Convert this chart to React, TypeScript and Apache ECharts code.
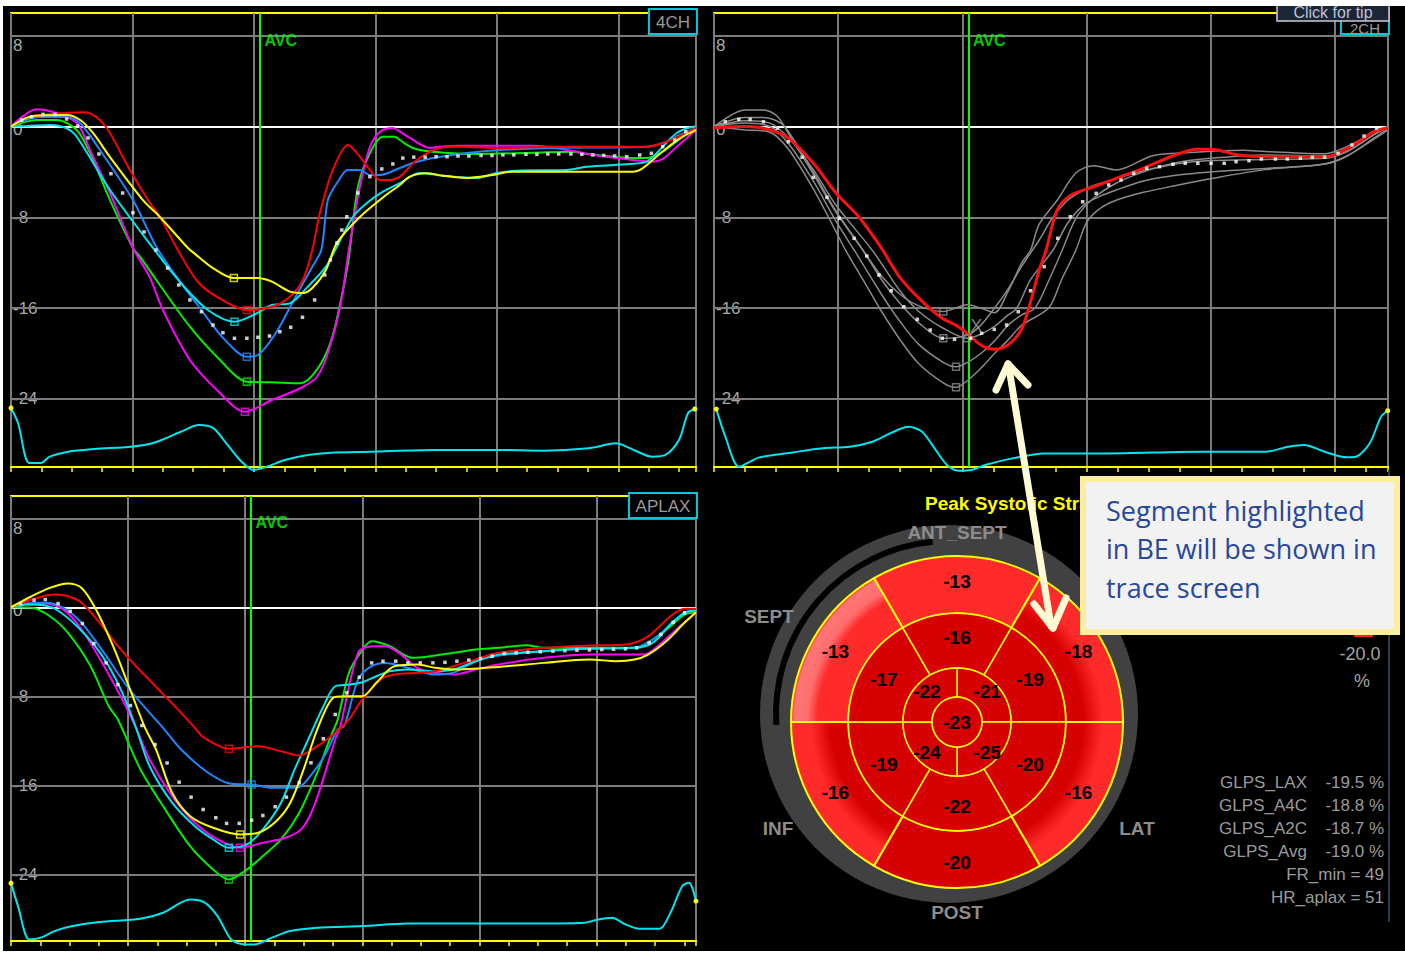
import React, { useEffect, useRef } from 'react';
import * as echarts from 'echarts';

type Pt = [number, number];

// ---------- axis / labels ----------
const yTicks = [8, 0, -8, -16, -24];
const avcTime = 205;
const avcLabelLevel = 7.6;
const viewNames = ['4CH', '2CH', 'APLAX'];
const xMaxes = [564, 543, 585];

// ---------- 4CH ----------
const a4cYellow: Pt[] = [[0,0],[18,0.93],[46,1.01],[57,0.57],[67.5,-0.57],[81.5,-2.69],[108.6,-6.48],[122.6,-7.97],[145.7,-10.7],[151.2,-11.2],[166.3,-12.47],[183.5,-13.35],[203.3,-13.35],[214.8,-13.67],[229.6,-14.55],[240.3,-14.67],[248.1,-14.23],[259.3,-12.64],[268.3,-10.26],[287.2,-7.97],[306.2,-6.25],[320.2,-5.15],[328.4,-4.42],[342.1,-4.12],[355.6,-4.33],[375,-4.54],[396.7,-4.27],[413.2,-3.98],[512,-3.98],[517.9,-3.83],[528.4,-2.95],[540,-1.89],[553.1,-0.9],[564,-0.31]];
const a4cRed: Pt[] = [[0,0],[15.6,0.86],[29.4,1.07],[59.3,1.25],[65,1.16],[73.2,0.57],[81.5,-0.57],[99.3,-4.1],[114.4,-6.74],[122.6,-7.95],[136.4,-10.7],[154.7,-13.79],[173.7,-15.28],[194.2,-16.17],[214.8,-15.88],[229.6,-14.99],[240.3,-13.52],[248.1,-10.88],[254.3,-7.62],[265,-3.83],[277.4,-1.63],[287.2,-2.66],[295.5,-3.83],[303.7,-4.71],[311.9,-4.71],[320.2,-4.42],[334.1,-2.95],[353,-1.89],[369.5,-1.78],[402.5,-1.92],[443.6,-1.78],[523.4,-1.78],[539.9,-1.34],[556.3,-0.57],[564,-0.13]];
const a4cBlue: Pt[] = [[0,0],[7.4,0.42],[23.9,0.84],[45.8,0.84],[56.8,0.31],[73.2,-2.07],[100.4,-6.48],[120.2,-10.7],[139.9,-13.79],[154.7,-15.88],[173.7,-18.52],[194.2,-20.28],[203.3,-20.13],[218.1,-18.19],[232.9,-15.28],[248.1,-12.35],[255.5,-10.88],[260.9,-6.48],[269.1,-4.86],[277.4,-3.83],[287.2,-3.83],[295.5,-4.27],[303.7,-4.27],[320.2,-3.66],[330.8,-3.22],[347.3,-2.78],[375.3,-2.33],[402.5,-2.07],[443.6,-1.89],[523.4,-1.78],[536.6,-1.45],[550.6,-0.75],[564,-0.1]];
const a4cGreen: Pt[] = [[0,0],[21.2,0.57],[37.6,0.57],[54.1,-0.31],[65,-2.33],[81.5,-6.48],[100.4,-10.7],[106.2,-11.47],[121.4,-13.79],[147.3,-17.64],[169.5,-20.28],[194.2,-22.48],[214.8,-22.54],[238.7,-22.62],[251.8,-21.45],[263,-19.07],[270.5,-15.88],[277.9,-11.76],[285.6,-5.33],[295.5,-2.33],[306.2,-0.9],[316,-0.9],[320.2,-1.19],[330.8,-1.89],[347.3,-2.22],[383.5,-2.42],[429.6,-2.31],[462.6,-2.22],[474.1,-2.42],[512,-2.78],[523.4,-2.78],[536.6,-2.22],[553.1,-0.9],[564,-0.13]];
const a4cCyan: Pt[] = [[0,0],[12.9,0.04],[32.1,0.13],[45.8,-0.16],[54.1,-0.9],[81.5,-5.59],[116.9,-10.7],[139.9,-13.79],[162.1,-16.17],[184,-17.2],[199.7,-16.61],[214.8,-15.73],[229.6,-15.58],[244.4,-14.11],[259.3,-12.35],[268.3,-10.6],[281.5,-7.97],[293,-6.74],[306.2,-5.74],[320.2,-4.98],[336.6,-4.1],[350.6,-4.27],[383.5,-4.54],[400,-4.1],[416.4,-3.89],[457.6,-3.83],[474.1,-3.54],[509.5,-3.3],[523.4,-3.1],[534.1,-2.07],[548.1,-0.57],[561.3,-0.02],[564,0]];
const a4cMagenta: Pt[] = [[0,0],[21.2,1.52],[34.6,1.28],[54.3,0.31],[65,-2.07],[81.5,-5.86],[100.4,-10.7],[114,-13.23],[125.1,-16.17],[147.3,-20.57],[169.5,-23.21],[192.6,-25.13],[214.8,-24.1],[238.7,-23.04],[251.8,-22.07],[260.9,-19.96],[270.8,-15.99],[278.2,-10.88],[287.2,-5.33],[295.5,-1.81],[303.7,-0.48],[314.4,-0.13],[320.2,-0.46],[328.4,-1.01],[344.8,-1.89],[353,-1.78],[369.5,-1.69],[429.6,-1.69],[465.8,-2.22],[479,-2.51],[512,-2.95],[528.4,-3.1],[536.6,-2.86],[548.1,-1.78],[564,-0.31]];
const a4cAvg: Pt[] = [[8.8,0.57],[17,0.86],[26.3,1.07],[36.2,1.07],[45.8,0.66],[54.9,0.04],[63.4,-1.01],[72.4,-2.42],[82.3,-4.16],[91.9,-5.86],[100.4,-7.6],[109.5,-9.29],[119.3,-10.88],[128.9,-12.47],[138.2,-13.96],[147.3,-15.28],[156.8,-16.32],[166.3,-17.49],[174.5,-18.17],[184,-18.66],[194.2,-18.66],[203.3,-18.57],[212.8,-18.46],[221.4,-18.08],[230.3,-17.69],[240,-16.81],[250,-15.28],[258.4,-13.08],[263,-11.76],[268.3,-10.26],[272.4,-9.12],[276.5,-7.95],[285.6,-5.86],[295.5,-4.42],[305.3,-3.74],[314.4,-3.3],[322.6,-2.78],[331.6,-2.7],[341,-2.7],[350,-2.66],[359,-2.66],[368,-2.6],[377,-2.6],[387,-2.55],[396,-2.55],[405,-2.5],[414,-2.5],[424,-2.45],[433,-2.45],[442,-2.42],[451,-2.42],[461,-2.42],[470,-2.45],[479,-2.5],[488,-2.55],[497,-2.6],[507,-2.66],[517.7,-2.51],[527.3,-2.36],[536.6,-1.78],[546.5,-1.19],[555.6,-0.46]];
const a4cEcg: Pt[] = [[0,-24.8],[5.8,-26.12],[15.1,-29.65],[24.5,-29.65],[31.9,-29.09],[46.9,-28.65],[69.1,-28.41],[98.8,-28.21],[117.7,-27.86],[139.9,-26.89],[154.7,-26.3],[166.3,-26.56],[177.3,-27.91],[188.5,-29.38],[199.7,-30.26],[210.7,-29.97],[225.5,-29.38],[244.4,-28.94],[263,-28.74],[296.3,-28.65],[348.8,-28.5],[400.8,-28.5],[438.3,-28.56],[475.5,-28.35],[497.9,-27.91],[512.7,-28.5],[527.6,-29.09],[538.9,-28.94],[550,-27.62],[557.5,-25.24],[563,-24.89]];

// ---------- 2CH ----------
const a2cRed: Pt[] = [[0,-0.1],[25.3,0],[39.8,-0.16],[58.3,-0.9],[80,-3.22],[98.3,-5.86],[116.6,-7.95],[134.8,-10.7],[149.3,-13.23],[163.8,-14.99],[182.1,-16.76],[196.8,-17.64],[204,-18.22],[214.9,-19.25],[225.8,-19.63],[236.8,-19.25],[247.5,-17.93],[254.7,-15.58],[262,-12.64],[267.6,-10.88],[276.5,-7.36],[287.8,-6.04],[306,-5.31],[324,-4.57],[345.7,-3.69],[371.5,-2.51],[389.8,-2.01],[400.5,-2.01],[422.6,-2.51],[444.4,-2.66],[491.9,-2.66],[502.7,-2.36],[517.2,-1.48],[531.8,-0.46],[543,-0.16]];
const a2cGray1: Pt[] = [[0,0],[25,1.45],[40,1.45],[51,0.9],[62,-1.0],[80,-4.2],[98,-7.5],[120,-10.9],[135,-13.2],[150,-14.8],[165,-15.8],[184.7,-16.3],[204,-15.7],[215,-16.0],[226,-16.4],[237,-14.5],[248,-12.0],[255,-10.9],[262,-8.6],[276.5,-6.5],[291.5,-4.1],[306,-3.45],[324,-3.83],[353.4,-2.57],[382.5,-2.3],[426,-2.1],[444,-2.2],[492,-2.4],[505,-2.0],[520,-1.2],[532,-0.4],[543,0]];
const a2cGray2: Pt[] = [[0,0],[25,0.8],[40,0.8],[55,0.2],[65,-1.3],[80,-4.0],[98,-7.4],[120,-10.9],[135,-13.5],[150,-15.6],[165,-17.3],[184.7,-18.66],[204,-18.4],[215,-17.5],[226,-16.0],[237,-14.3],[248,-12.3],[262,-10.0],[273,-8.0],[285,-6.5],[298,-5.6],[306,-5.2],[324,-4.6],[346,-3.9],[372,-3.3],[400,-3.0],[444,-2.9],[492,-2.8],[510,-2.2],[532,-0.7],[543,-0.1]];
const a2cGray3: Pt[] = [[0,0],[25,0.5],[45,0.3],[60,-1.0],[80,-3.8],[98,-6.9],[127.5,-10.9],[150,-14.5],[165,-16.3],[185,-17.8],[204,-18.66],[215,-18.3],[226,-17.6],[237,-16.6],[244,-16.0],[255,-13.5],[273,-10.9],[285,-8.5],[298,-6.9],[310,-6.2],[324,-5.6],[346,-4.8],[372,-4.3],[400,-4.0],[444,-3.7],[492,-3.3],[510,-2.6],[532,-1.0],[543,-0.2]];
const a2cGray4: Pt[] = [[0,0],[25,0.3],[45,0],[60,-1.5],[80,-4.8],[98,-8.3],[113,-10.9],[135,-14.8],[150,-17.2],[165,-19.2],[185,-20.8],[195,-21.16],[204,-20.8],[215,-20.0],[226,-18.9],[237,-17.5],[248,-16.6],[258.6,-16.0],[270,-13.5],[280.5,-10.9],[292,-8.0],[306,-6.3],[324,-5.0],[346,-4.0],[372,-3.2],[400,-2.8],[444,-2.5],[492,-2.6],[510,-2.2],[532,-0.7],[543,0]];
const a2cGray5: Pt[] = [[0,0],[25,-0.3],[45,-0.5],[60,-2.0],[80,-5.5],[98,-9.2],[106,-10.9],[120,-13.5],[135,-16.3],[150,-18.8],[165,-20.9],[185,-22.6],[195,-22.98],[204,-22.4],[215,-21.3],[226,-20.0],[237,-18.8],[248,-17.5],[269.5,-16.0],[280,-13.5],[291.5,-10.9],[300,-8.5],[310,-7.3],[324,-6.5],[346,-5.8],[372,-5.2],[400,-4.6],[444,-3.8],[492,-3.3],[510,-2.6],[532,-1.1],[543,-0.3]];
const a2cAvg: Pt[] = [[9.1,0.42],[20,0.63],[29.1,0.63],[39.8,0.42],[51,-0.16],[59.9,-1.34],[71,-2.71],[80,-4.48],[91,-6.24],[101,-8.09],[112.9,-9.85],[123.1,-11.41],[132.9,-13.08],[142.8,-14.47],[153,-15.88],[163.8,-16.99],[174.2,-17.93],[183.9,-18.66],[193.8,-18.75],[206.9,-18.66],[215.6,-18.22],[225.8,-17.87],[235.7,-17.49],[245.1,-16.32],[255,-14.47],[266,-12.35],[276.9,-9.85],[287,-7.95],[297,-6.63],[307.9,-5.89],[318,-5.15],[327.9,-4.71],[338.1,-4.12],[348.6,-3.68],[358.9,-3.54],[369.8,-3.33],[379.6,-3.24],[389.8,-3.24],[400.5,-3.24],[411,-3.24],[420.6,-3.1],[431,-3.01],[441,-2.86],[452.3,-2.86],[461.9,-2.86],[472.4,-2.8],[482,-2.71],[491.9,-2.71],[502.7,-2.36],[514,-1.63],[523.7,-0.84],[533.8,-0.16]];
const a2cEcg: Pt[] = [[1.9,-24.9],[9.2,-27.34],[20.2,-29.98],[29.2,-29.53],[36.4,-29.15],[62,-28.74],[87.4,-28.35],[109.4,-28.21],[127.6,-27.77],[142.1,-27.03],[156.6,-26.45],[167.6,-26.89],[178.6,-28.5],[187.7,-29.82],[196.8,-30.32],[207.6,-30.26],[218.5,-29.82],[240.3,-29.24],[266,-28.8],[316.7,-28.8],[389.8,-28.65],[444.4,-28.65],[462.5,-28.21],[475.4,-28.06],[491.9,-28.65],[510,-29.15],[517.2,-29.09],[528.3,-27.91],[537.4,-25.57],[542.8,-25.04]];
const a2cCursor: Pt = [211.3, -17.6];

// ---------- APLAX ----------
const lxYellow: Pt[] = [[0,0],[17.7,0.99],[33.2,1.74],[48.7,2.13],[60.3,1.74],[71.8,-0.05],[87.2,-3.5],[102.8,-7.69],[114.5,-10.84],[123.9,-12.79],[137.6,-16.68],[153,-18.78],[172.6,-19.82],[195.7,-20.42],[211.1,-20.27],[226.5,-19.23],[238.5,-17.57],[249.9,-14.58],[261.5,-10.99],[275.2,-8.14],[284.6,-8.0],[300,-8.0],[312,-6.79],[327.4,-5.3],[346.8,-5.15],[362.2,-5.44],[377.8,-5.6],[416.2,-5.36],[455.1,-5.0],[493.9,-4.7],[517.1,-4.85],[532.5,-4.7],[544.1,-4.25],[559.6,-3.05],[575.2,-1.4],[585,-0.45]];
const lxRed: Pt[] = [[0,0],[17.7,0.69],[37,1.14],[48.7,0.99],[60.3,0.4],[75.7,-1.4],[91.3,-3.5],[106.8,-5.3],[126.1,-7.39],[145.3,-9.49],[157,-10.84],[164.8,-11.73],[186.1,-12.72],[211.1,-12.49],[230.6,-12.94],[246.2,-13.32],[261.5,-12.49],[276.9,-11.28],[288.6,-10.09],[300,-8.29],[315.7,-6.5],[327.4,-6.05],[346.8,-5.89],[362.2,-5.75],[377.8,-5.3],[400.9,-4.55],[416.2,-4.1],[455.1,-3.65],[493.9,-3.44],[524.8,-3.35],[544.1,-2.61],[563.2,-0.81],[575.2,-0.14],[585,-0.14]];
const lxGreen: Pt[] = [[0,0],[17.7,-0.05],[33.2,-0.81],[48.7,-2.3],[68,-5.3],[83.5,-8.9],[91.3,-10.09],[110.6,-14.58],[129.9,-17.88],[153,-21.47],[172.6,-23.57],[186.1,-24.47],[199.7,-23.72],[215.1,-22.37],[230.6,-20.87],[246.2,-18.47],[261.5,-14.88],[273.2,-11.59],[279,-10.09],[288.6,-5.89],[298.3,-4.1],[308,-3.05],[323.5,-3.5],[342.7,-4.55],[358.1,-4.4],[377.8,-4.1],[397,-3.8],[416.2,-3.65],[439.7,-3.41],[455.1,-3.65],[493.9,-3.65],[532.5,-3.65],[547.9,-2.9],[563.2,-1.71],[575.2,-0.66],[585,-0.45]];
const lxCyan: Pt[] = [[0,0],[13.7,0.24],[29.3,0.15],[40.9,-0.36],[56.4,-1.71],[71.8,-3.5],[83.5,-5.3],[95.1,-7.69],[106.8,-10.84],[118.4,-14.29],[137.6,-17.57],[157,-19.68],[172.6,-20.87],[186.1,-21.62],[201.5,-21.32],[215.1,-19.97],[230.6,-17.57],[242.2,-14.58],[253.8,-11.89],[261.5,-10.09],[265.5,-9.19],[276.9,-7.1],[288.6,-6.95],[300,-6.74],[312,-6.2],[323.5,-5.75],[339,-5.6],[362.2,-5.75],[377.8,-5.6],[397,-4.85],[416.2,-4.25],[455.1,-3.95],[493.9,-3.71],[532.5,-3.65],[547.9,-3.2],[563.2,-1.55],[575.2,-0.5],[585,-0.27]];
const lxBlue: Pt[] = [[0,0],[13.7,0.33],[29.3,0.4],[44.8,-0.05],[60.3,-1.4],[79.5,-4.1],[99,-7.1],[118.4,-9.49],[129.9,-10.84],[145.3,-12.79],[168.4,-14.88],[188,-15.87],[205.5,-15.93],[222.8,-16.23],[244.1,-16.23],[257.7,-14.88],[269.2,-13.08],[279,-10.99],[284.6,-10.69],[296.4,-6.5],[308,-5.3],[319.7,-5.0],[339,-5.44],[362.2,-6.05],[377.8,-5.89],[397,-4.85],[416.2,-4.34],[455.1,-3.95],[493.9,-3.74],[532.5,-3.65],[551.9,-2.61],[567.4,-1.11],[579,-0.36],[585,-0.36]];
const lxMagenta: Pt[] = [[0,0],[13.7,0.31],[29.3,0.33],[44.8,-0.21],[60.3,-2.0],[79.5,-5.3],[95.1,-8.29],[106.8,-10.84],[118.4,-13.68],[137.6,-16.98],[157,-19.37],[176.4,-20.87],[195.7,-21.62],[215.1,-21.17],[234.4,-20.72],[247.9,-19.97],[257.7,-18.18],[267.4,-15.18],[276.9,-11.89],[280.9,-10.84],[296.4,-4.1],[308,-3.5],[319.7,-3.5],[331.3,-4.1],[346.8,-5.44],[362.2,-5.89],[377.8,-6.05],[397,-5.6],[416.2,-5.15],[455.1,-4.55],[493.9,-4.25],[540.2,-4.25],[555.6,-3.2],[571.2,-1.71],[585,-0.5]];
const lxAvg: Pt[] = [[8,0.33],[19.7,0.63],[29.3,0.69],[40.2,0.33],[50.6,-0.36],[61,-1.46],[70.8,-3.26],[81.2,-5.0],[91.3,-6.95],[102,-8.84],[111.8,-10.63],[123,-12.34],[133.3,-14.0],[143.6,-15.72],[153.8,-17.07],[164.1,-18.18],[174.9,-18.92],[184.1,-19.43],[194.9,-19.43],[205.5,-19.14],[215.1,-18.72],[225.6,-17.93],[235.2,-17.07],[246.2,-15.78],[256.2,-13.98],[266.7,-11.82],[276.9,-9.64],[286.8,-7.69],[297.4,-6.29],[308,-5.0],[317.7,-4.85],[328.6,-4.85],[339,-5.0],[349.5,-5.0],[360.3,-5.0],[370.6,-4.95],[380.8,-4.85],[391,-4.75],[400.9,-4.61],[411,-4.4],[421.4,-4.16],[431.5,-4.1],[441.5,-4.04],[452,-4.0],[462.8,-3.95],[473,-3.9],[483.3,-3.86],[494,-3.83],[504.6,-3.8],[514.5,-3.77],[524.8,-3.74],[534.4,-3.65],[545,-3.2],[555,-2.45],[565.5,-1.35],[575.2,-0.5]];
const lxEcg: Pt[] = [[0,-24.8],[6,-26.86],[15.7,-29.86],[25.5,-29.7],[37,-29.11],[52.6,-28.66],[75.7,-28.3],[110.6,-28.0],[129.9,-27.46],[153,-26.26],[164.8,-26.5],[176.4,-27.76],[188,-29.86],[199.7,-30.31],[207.4,-30.31],[222.8,-29.7],[238.5,-29.11],[261.5,-28.81],[300,-28.66],[339,-28.42],[455.1,-28.42],[489.7,-28.36],[501.5,-28.06],[513.2,-27.91],[524.8,-28.51],[536.4,-28.9],[553.8,-28.9],[563.2,-27.46],[573.2,-25.07],[579,-24.76],[585,-26.42]];

// ---------- Bull's eye (clockwise from top) ----------
const beWalls = ['ANT_SEPT', 'ANT', 'LAT', 'POST', 'INF', 'SEPT'];
const beBasal = [-13, -18, -16, -20, -16, -13];
const beMid = [-16, -19, -20, -22, -19, -17];
const beApical = [-21, -25, -24, -22];
const beApex = -23;
const peakAvg = -20.0;
const glpsLabels = ['GLPS_LAX', 'GLPS_A4C', 'GLPS_A2C', 'GLPS_Avg'];
const glpsValues = [-19.5, -18.8, -18.7, -19.0];
const frMin = 49;
const hrAplax = 51;
const calloutLines = ['Segment highlighted', 'in BE will be shown in', 'trace screen'];

const FONT = 'Arial, "Liberation Sans", sans-serif';
const C = {
  yellow: '#ffff00', red: '#ff0000', cyan: '#00e6ee', blue: '#1e86ff',
  green: '#00ee00', magenta: '#ff00ff', gray: '#8a8a8a', ecg: '#00e6ee',
};

type Curve = { color: string; width: number; data: Pt[]; mk?: number };

const panels: { curves: Curve[]; avg: Pt[]; ecg: Pt[] }[] = [
  {
    curves: [
      { color: C.green, width: 2, data: a4cGreen, mk: 194.2 },
      { color: C.magenta, width: 2, data: a4cMagenta, mk: 192.6 },
      { color: C.blue, width: 2, data: a4cBlue, mk: 194.2 },
      { color: C.cyan, width: 2, data: a4cCyan, mk: 184 },
      { color: C.red, width: 2, data: a4cRed, mk: 194.2 },
      { color: C.yellow, width: 2, data: a4cYellow, mk: 183.5 },
    ],
    avg: a4cAvg, ecg: a4cEcg,
  },
  {
    curves: [
      { color: C.gray, width: 1.5, data: a2cGray1, mk: 184.7 },
      { color: C.gray, width: 1.5, data: a2cGray2, mk: 184.7 },
      { color: C.gray, width: 1.5, data: a2cGray3, mk: 204 },
      { color: C.gray, width: 1.5, data: a2cGray4, mk: 195 },
      { color: C.gray, width: 1.5, data: a2cGray5, mk: 195 },
      { color: '#ff1010', width: 3, data: a2cRed },
    ],
    avg: a2cAvg, ecg: a2cEcg,
  },
  {
    curves: [
      { color: C.green, width: 2, data: lxGreen, mk: 186.1 },
      { color: C.magenta, width: 2, data: lxMagenta, mk: 195.7 },
      { color: C.blue, width: 2, data: lxBlue, mk: 205.5 },
      { color: C.cyan, width: 2, data: lxCyan, mk: 186.1 },
      { color: C.red, width: 2, data: lxRed, mk: 186.1 },
      { color: C.yellow, width: 2, data: lxYellow, mk: 195.7 },
    ],
    avg: lxAvg, ecg: lxEcg,
  },
];

const gridBoxes = [
  { left: 11, top: 13, width: 685, height: 454 },
  { left: 714, top: 13, width: 674, height: 454 },
  { left: 11, top: 496, width: 685, height: 445 },
];
const labelBoxes = [
  { x: 649, y: 9, w: 48, h: 25, ty: 22 },
  { x: 1341, y: 9, w: 48, h: 25, ty: 28 },
  { x: 629, y: 493, w: 68, h: 25, ty: 506 },
];

const BE_DARK = '#d70000';
const BE_BRIGHT = '#ff2b2b';
const beCx = 957, beCy = 722;

function edgeGradient() {
  return {
    type: 'radial', x: beCx, y: beCy, r: 166, global: true,
    colorStops: [
      { offset: 0, color: BE_DARK }, { offset: 0.76, color: BE_DARK },
      { offset: 0.88, color: BE_BRIGHT }, { offset: 1, color: BE_BRIGHT },
    ],
  };
}
function highlightGradient() {
  return {
    type: 'radial', x: beCx, y: beCy, r: 166, global: true,
    colorStops: [
      { offset: 0, color: BE_BRIGHT }, { offset: 0.84, color: BE_BRIGHT },
      { offset: 0.9, color: '#ff6e6e' }, { offset: 0.98, color: '#ff7676' },
      { offset: 1, color: BE_BRIGHT },
    ],
  };
}
function basalColor(v: number, i: number) {
  if (v >= -13) return i === 5 ? highlightGradient() : BE_BRIGHT;
  if (v > -20) return edgeGradient();
  return BE_DARK;
}

function text(x: number, y: number, t: string, font: string, fill: string, align = 'center', z = 5, extra: any = {}) {
  return {
    type: 'text', x, y, z, silent: true,
    style: { text: t, font, fill, textAlign: align, textVerticalAlign: 'middle', align, verticalAlign: 'middle', ...extra },
  };
}

const yLabelStyle = { color: '#a9a9a9', fontSize: 17, fontFamily: FONT };

function buildOption() {
  const xAxis: any[] = [];
  const yAxis: any[] = [];
  const series: any[] = [];

  panels.forEach((p, i) => {
    xAxis.push({
      type: 'value', gridIndex: i, min: 0, max: xMaxes[i], interval: 100, position: 'bottom',
      axisLine: { show: true, onZero: false, lineStyle: { color: '#ffff00', width: 2 } },
      axisTick: { show: false }, axisLabel: { show: false },
      splitLine: { show: true, lineStyle: { color: '#7c7c7c', width: 2 } },
    });
    xAxis.push({
      type: 'value', gridIndex: i, min: 0, max: xMaxes[i], interval: 25, position: 'bottom',
      axisLine: { show: false, onZero: false },
      axisTick: { show: true, inside: false, length: 5, lineStyle: { color: '#ffff00', width: 1.5 } },
      axisLabel: { show: false }, splitLine: { show: false },
    });
    yAxis.push({
      type: 'value', gridIndex: i, min: -30, max: 10, interval: 2,
      axisLine: { show: false }, axisTick: { show: false }, splitLine: { show: false },
      axisLabel: {
        inside: true, margin: 2, ...yLabelStyle,
        textBorderColor: '#000', textBorderWidth: 1,
        formatter: (v: number) => {
          if (yTicks.indexOf(v) < 0) return '';
          if (v === 8) return `{lo|${v}}`;
          if (v === 0) return `{mid|${v}}`;
          return String(v);
        },
        rich: {
          lo: { ...yLabelStyle, padding: [20, 0, 0, 0] },
          mid: { ...yLabelStyle, padding: [6, 0, 0, 0] },
        },
      },
    });
    const xi = 2 * i;
    // reference lines + AVC
    series.push({
      type: 'line', xAxisIndex: xi, yAxisIndex: i, data: [[0, 0]], symbol: 'none', silent: true,
      lineStyle: { opacity: 0 }, z: 1,
      markLine: {
        silent: true, symbol: ['none', 'none'], z: 1, animation: false, label: { show: false },
        data: [
          ...yTicks.map((v) => ({ yAxis: v, lineStyle: { color: v === 0 ? '#ffffff' : '#7c7c7c', width: 2, type: 'solid' } })),
          { xAxis: avcTime, lineStyle: { color: '#00ff00', width: 2, type: 'solid' } },
        ],
      },
    });
    // ECG
    const last = p.ecg.length - 1;
    series.push({
      type: 'line', xAxisIndex: xi, yAxisIndex: i, clip: false, smooth: 0.3, symbol: 'none', showSymbol: true,
      silent: true, z: 2, lineStyle: { color: C.ecg, width: 2 },
      data: p.ecg.map((pt, k) => (k === 0 || k === last)
        ? { value: pt, symbol: 'circle', symbolSize: 5, itemStyle: { color: '#ffff00' } }
        : pt),
    });
    // strain curves
    p.curves.forEach((c) => {
      series.push({
        type: 'line', xAxisIndex: xi, yAxisIndex: i, data: c.data, smooth: 0.3, symbol: 'none',
        silent: true, z: 3, lineStyle: { color: c.color, width: c.width },
      });
    });
    // markers
    p.curves.forEach((c) => {
      if (c.mk === undefined) return;
      const pt = c.data.find((d) => d[0] === c.mk);
      if (!pt) return;
      series.push({
        type: 'scatter', xAxisIndex: xi, yAxisIndex: i, data: [pt], symbol: 'rect', symbolSize: 7,
        silent: true, z: 4, itemStyle: { color: 'rgba(0,0,0,0)', borderColor: c.color, borderWidth: 1.5 },
      });
    });
    // average dots
    series.push({
      type: 'scatter', xAxisIndex: xi, yAxisIndex: i, data: p.avg, symbol: 'rect', symbolSize: 3.5,
      silent: true, z: 5, itemStyle: { color: '#ffffff' },
    });
    // AVC label
    series.push({
      type: 'scatter', xAxisIndex: xi, yAxisIndex: i, data: [[avcTime, avcLabelLevel]], symbolSize: 1,
      silent: true, z: 5, itemStyle: { color: 'rgba(0,0,0,0)' },
      label: { show: true, position: 'right', distance: 4, formatter: 'AVC', color: '#00ff00', fontWeight: 'bold', fontSize: 16, fontFamily: FONT },
    });
  });

  // 2CH cursor
  series.push({
    type: 'scatter', xAxisIndex: 2, yAxisIndex: 1, data: [a2cCursor], symbolSize: 1, silent: true, z: 6,
    itemStyle: { color: 'rgba(0,0,0,0)' },
    label: { show: true, position: 'inside', formatter: 'X', color: '#a0a0a0', fontSize: 18, fontFamily: FONT },
  });

  // Bull's eye
  const pieBase = {
    type: 'pie', center: [beCx, beCy], clockwise: true, silent: true, avoidLabelOverlap: false,
    labelLine: { show: false }, z: 3,
    label: {
      show: true, position: 'inside', color: '#000000', fontWeight: 'bold', fontSize: 19, fontFamily: FONT,
      textBorderWidth: 0, formatter: (pr: any) => String(pr.data.strain),
    },
  };
  series.push({
    ...pieBase, radius: [108.7, 166], startAngle: 120,
    data: beBasal.map((v, k) => ({ value: 1, name: beWalls[k], strain: v,
      itemStyle: { color: basalColor(v, k), borderColor: '#ffff00', borderWidth: 2 } })),
  });
  series.push({
    ...pieBase, radius: [54, 108.7], startAngle: 120,
    data: beMid.map((v, k) => ({ value: 1, name: 'mid' + k, strain: v,
      itemStyle: { color: BE_DARK, borderColor: '#ffff00', borderWidth: 1.5 } })),
  });
  series.push({
    ...pieBase, radius: [25, 54], startAngle: 90,
    data: beApical.map((v, k) => ({ value: 1, name: 'ap' + k, strain: v,
      itemStyle: { color: BE_DARK, borderColor: '#ffff00', borderWidth: 1.5 } })),
  });
  series.push({
    ...pieBase, radius: [0, 25], startAngle: 90,
    label: { ...pieBase.label, position: 'center' },
    data: [{ value: 1, name: 'apex', strain: beApex, itemStyle: { color: BE_DARK, borderColor: '#ffff00', borderWidth: 1.5 } }],
  });

  // graphics
  const g: any[] = [];
  g.push({ type: 'rect', shape: { x: 3, y: 6, width: 1402, height: 945 }, style: { fill: '#000000' }, z: -19, silent: true });
  g.push({ type: 'circle', shape: { cx: 949, cy: 714, r: 189 }, style: { fill: '#414141' }, z: 1, silent: true });
  g.push({ type: 'arc', shape: { cx: 949, cy: 714, r: 173, startAngle: Math.PI * 0.98, endAngle: Math.PI * 1.47 },
    style: { stroke: '#000000', lineWidth: 6, fill: 'none' }, z: 1, silent: true });

  // panel label boxes
  labelBoxes.forEach((b, i) => {
    g.push({ type: 'rect', shape: { x: b.x, y: b.y, width: b.w, height: b.h }, style: { fill: '#000', stroke: '#00c8d8', lineWidth: 2 }, z: 20, silent: true });
    g.push(text(b.x + b.w / 2, b.ty, viewNames[i], `${i === 1 ? 15 : 17}px ${FONT}`, '#9a9a9a', 'center', 21));
  });
  // click-for-tip
  g.push({ type: 'rect', shape: { x: 1277, y: 2, width: 112, height: 19 }, style: { fill: '#1d2636', stroke: '#c8ccd4', lineWidth: 1.5 }, z: 22, silent: true });
  g.push(text(1333, 12, 'Click for tip', `16px ${FONT}`, '#b9c4d8', 'center', 23));

  // wall names
  const wallPos = [[957, 532], [1150, 616], [1137, 828], [957, 912], [778, 828], [769, 616]];
  beWalls.forEach((w, k) => {
    g.push(text(wallPos[k][0], wallPos[k][1], w, `bold 19px ${FONT}`, '#8c8c8c', 'center', 6));
  });
  g.push(text(925, 503, 'Peak Systolic Strain', `bold 19px ${FONT}`, '#ffff00', 'left', 6));
  g.push({ type: 'rect', shape: { x: 1354, y: 632, width: 19, height: 5 }, style: { fill: '#ff2020' }, z: 6, silent: true });
  g.push(text(1360, 654, peakAvg.toFixed(1), `18px ${FONT}`, '#a3a3a3', 'center', 6));
  g.push(text(1362, 681, '%', `18px ${FONT}`, '#a3a3a3', 'center', 6));

  // GLPS block
  glpsLabels.forEach((l, k) => {
    const y = 782 + k * 23;
    g.push(text(1307, y, l, `17px ${FONT}`, '#9b9b9b', 'right', 6));
    g.push(text(1384, y, `${glpsValues[k].toFixed(1)} %`, `17px ${FONT}`, '#9b9b9b', 'right', 6));
  });
  g.push(text(1384, 874, `FR_min = ${frMin}`, `17px ${FONT}`, '#9b9b9b', 'right', 6));
  g.push(text(1384, 897, `HR_aplax = ${hrAplax}`, `17px ${FONT}`, '#9b9b9b', 'right', 6));
  g.push({ type: 'line', shape: { x1: 1389, y1: 470, x2: 1389, y2: 922 }, style: { stroke: '#2c3a4a', lineWidth: 2 }, z: 6, silent: true });

  // callout
  g.push({ type: 'rect', shape: { x: 1083, y: 479, width: 314, height: 153 }, style: { fill: '#f2f2f2', stroke: '#fcee9e', lineWidth: 6 }, z: 50, silent: true });
  calloutLines.forEach((l, k) => {
    g.push(text(1106, 510 + k * 38.5, l, `27px "Open Sans", "Noto Sans", sans-serif`, '#27479b', 'left', 51));
  });

  // arrow
  const arrowStyle = { stroke: '#fff9d4', lineWidth: 7, lineCap: 'round' };
  const segs = [
    [1009, 368, 1051, 626],
    [1008, 364, 996, 390], [1008, 364, 1028, 385],
    [1053, 628, 1034, 604], [1053, 628, 1066, 598],
  ];
  segs.forEach((s) => g.push({ type: 'line', shape: { x1: s[0], y1: s[1], x2: s[2], y2: s[3] }, style: arrowStyle, z: 60, silent: true }));

  // white top strip
  g.push({ type: 'rect', shape: { x: 0, y: 0, width: 1405, height: 6 }, style: { fill: '#ffffff' }, z: 100, silent: true });

  return {
    animation: false,
    backgroundColor: '#ffffff',
    grid: gridBoxes.map((b) => ({ ...b, show: true, borderColor: '#ffff00', borderWidth: 2, backgroundColor: '#000000', containLabel: false })),
    xAxis, yAxis, series,
    graphic: { elements: g },
  };
}

export default function App() {
  const ref = useRef<HTMLDivElement>(null);
  useEffect(() => {
    if (!ref.current) return;
    const chart = echarts.init(ref.current, null, { renderer: 'svg' });
    chart.setOption(buildOption() as any);
    return () => chart.dispose();
  }, []);
  return <div ref={ref} style={{ position: 'absolute', left: 0, top: 0, width: 1405, height: 954 }} />;
}
